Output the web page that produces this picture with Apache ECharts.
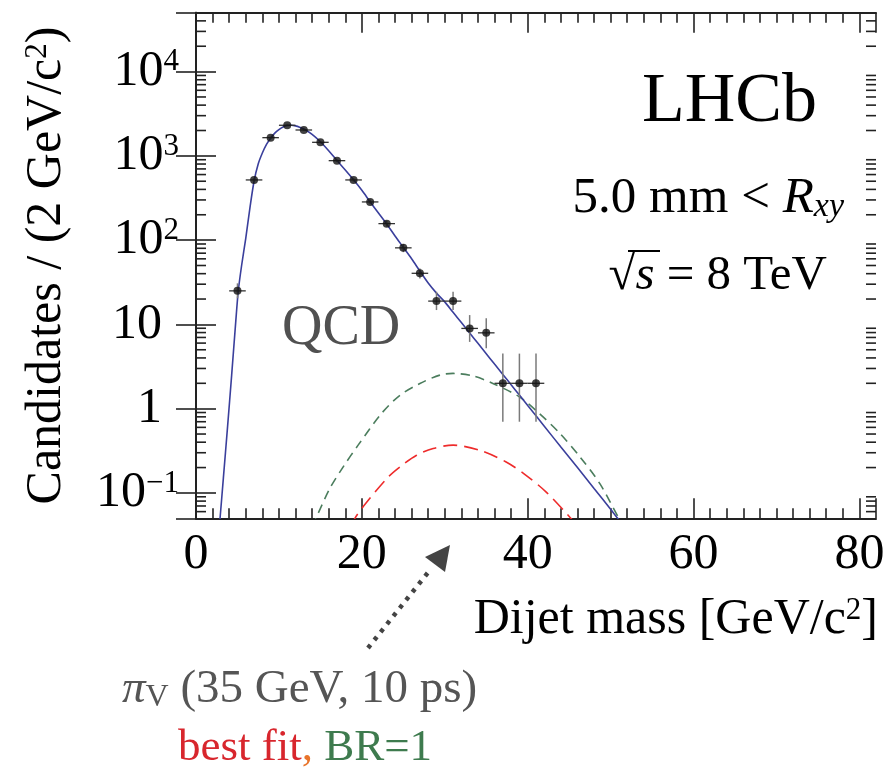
<!DOCTYPE html>
<html><head><meta charset="utf-8">
<script src="https://cdn.jsdelivr.net/npm/echarts@6/dist/echarts.min.js"></script>
<style>html,body{margin:0;padding:0;background:#fff}#c{width:894px;height:770px}</style>
</head><body><div id="c"></div>
<script>
// ---- data ----
const binCenters = [5, 7, 9, 11, 13, 15, 17, 19, 21, 23, 25, 27, 29, 31, 33, 35, 37, 39, 41];
const counts     = [25, 518, 1644, 2307, 2028, 1448, 877, 518, 284, 157, 81, 40.4, 18.9, 18.9, 8.96, 7.94, 2, 2, 2];
const errLow     = [20.4, 495, 1600, 2255, 1980, 1408, 846, 496, 268, 145, 72, 35, 14.8, 14.8, 6.2, 5.2, 0.7, 0.7, 0.7];
const errHigh    = [30.7, 541, 1688, 2359, 2076, 1488, 908, 541, 301, 170, 90, 46, 24.4, 24.4, 12.9, 11.8, 4.5, 4.5, 4.5];
const binHalfWidth = 1;

const qcdX = [2.7, 2.9, 3.3, 3.8, 4.3, 4.8, 5.1, 5.5, 6.0, 6.5, 7.0, 7.5, 8.0, 8.5, 9.0, 9.5, 10.0, 10.5, 11.0, 11.5, 12.0, 12.5, 13.0, 14.0, 15.0, 16.0, 17.0, 18.0, 19.0, 20.0, 21.0, 22.0, 23.0, 24.0, 25.0, 26.0, 27.0, 28.0, 29.0, 30.0, 31.0, 32.0, 33.0, 34.0, 35.0, 36.0, 37.0, 38.0, 39.0, 40.0, 42.0, 44.0, 46.0, 48.0, 50.0, 51.0, 52.0];
const qcdY = [0.03, 0.05, 0.15, 0.6, 2.5, 11, 25, 50, 105, 240, 500, 800, 1080, 1370, 1620, 1860, 2050, 2200, 2290, 2310, 2270, 2190, 2080, 1800, 1470, 1150, 880, 680, 520, 390, 285, 210, 155, 112, 82, 60, 43, 31, 23.5, 18.5, 13.9, 10.5, 7.9, 5.96, 4.49, 3.38, 2.55, 1.92, 1.45, 1.09, 0.62, 0.35, 0.2, 0.113, 0.064, 0.048, 0.037];

const br1X = [14.0, 14.46, 16.14, 17.75, 19.55, 22.37, 24.6, 27.0, 29.4, 31.0, 33.4, 35.8, 39.0, 41.4, 43.9, 46.3, 48.7, 50.9, 51.4];
const br1Y = [0.04, 0.05, 0.113, 0.204, 0.369, 0.877, 1.445, 1.99, 2.50, 2.62, 2.45, 1.99, 1.38, 0.877, 0.507, 0.268, 0.129, 0.052, 0.044];

const bestX = [18.8, 19.16, 20.6, 23.2, 24.6, 26.6, 28.6, 31.0, 34.2, 37.4, 39.8, 42.2, 44.9, 45.6];
const bestY = [0.04, 0.05, 0.078, 0.155, 0.204, 0.28, 0.337, 0.369, 0.321, 0.233, 0.162, 0.103, 0.054, 0.045];

const xTickValues = [0, 20, 40, 60, 80];
const yTickValues = [0.1, 1, 10, 100, 1000, 10000];
const yTickBase   = ['10', '1', '10', '10', '10', '10'];
const yTickExp    = ['\u22121', '', '', '2', '3', '4'];
const yMinorMantissa = [2, 3, 4, 5, 6, 7, 8, 9];

// ---- chart ----
const SERIF = "'Liberation Serif','Times New Roman',serif";
const X_MIN = 0, X_MAX = 82, Y_MIN = 0.05, Y_MAX = 50000;

const yMinor = [];
for (let e = -2; e <= 4; e++) {
  for (const m of yMinorMantissa) {
    const v = m * Math.pow(10, e);
    if (v > Y_MIN * 1.0001 && v < Y_MAX * 0.9999) yMinor.push([0, v]);
  }
}

const AX = '#222';
function axisCommon(showLabels) {
  return {
    axisLine: { show: true, lineStyle: { color: AX, width: 2 } },
    axisTick: { show: true, inside: true, length: 20, lineStyle: { color: AX, width: 1.6 } },
    splitLine: { show: false },
    axisLabel: { show: showLabels }
  };
}

const chart = echarts.init(document.getElementById('c'), null, { renderer: 'canvas' });

const xBase = {
  type: 'value', min: X_MIN, max: X_MAX, interval: 20,
  minorTick: { show: true, splitNumber: 10, length: 10, lineStyle: { color: AX, width: 1.6 } },
  minorSplitLine: { show: false }
};

chart.setOption({
  animation: false,
  backgroundColor: '#fff',
  grid: { left: 196, right: 18, top: 12.7, bottom: 251.7, containLabel: false },
  xAxis: [
    Object.assign({}, xBase, axisCommon(true), {
      position: 'bottom',
      axisLabel: {
        show: true, margin: 12, fontSize: 50, fontFamily: SERIF, color: '#000',
        showMaxLabel: false,
        formatter: v => (xTickValues.indexOf(v) >= 0 ? String(v) : '')
      },
      name: '{t|Dijet mass [GeV/c}{s|2}{t|]}',
      nameLocation: 'end', nameGap: 2,
      nameTextStyle: {
        align: 'right', verticalAlign: 'top', padding: [77, 0, 0, 0],
        rich: {
          t: { fontSize: 50, fontFamily: SERIF, color: '#000' },
          s: { fontSize: 31, fontFamily: SERIF, color: '#000', verticalAlign: 'top' }
        }
      }
    }),
    Object.assign({}, xBase, axisCommon(false), { position: 'top' })
  ],
  yAxis: [
    Object.assign({ type: 'log', logBase: 10, min: Y_MIN, max: Y_MAX }, axisCommon(true), {
      position: 'left',
      axisLabel: {
        show: true, margin: 17, showMinLabel: false, showMaxLabel: false,
        fontSize: 50, fontFamily: SERIF, color: '#000',
        formatter: v => {
          const i = yTickValues.findIndex(t => Math.abs(Math.log10(t) - Math.log10(v)) < 1e-6);
          if (i < 0) return '';
          return yTickExp[i] ? '{b|' + yTickBase[i] + '}{s|' + yTickExp[i] + '}' : '{b|' + yTickBase[i] + '}{p|}';
        },
        rich: {
          b: { fontSize: 50, fontFamily: SERIF, color: '#000' },
          s: { fontSize: 31, fontFamily: SERIF, color: '#000', verticalAlign: 'top' },
          p: { width: 17 }
        }
      },
      name: '{t|Candidates / (2 GeV/c}{s|2}{t|)}',
      nameLocation: 'middle', nameRotate: 90, nameGap: 124,
      nameTextStyle: {
        rich: {
          t: { fontSize: 50, fontFamily: SERIF, color: '#000' },
          s: { fontSize: 31, fontFamily: SERIF, color: '#000', verticalAlign: 'top' }
        }
      }
    }),
    Object.assign({ type: 'log', logBase: 10, min: Y_MIN, max: Y_MAX }, axisCommon(false), { position: 'right' })
  ],
  series: [
    {
      name: 'minor log ticks', type: 'custom', coordinateSystem: 'cartesian2d',
      xAxisIndex: 0, yAxisIndex: 0, silent: true, clip: false,
      encode: { x: 0, y: 1 },
      data: yMinor,
      renderItem: (params, api) => {
        const v = api.value(1);
        const pL = api.coord([X_MIN, v]);
        const pR = api.coord([X_MAX, v]);
        return {
          type: 'group', children: [
            { type: 'line', shape: { x1: pL[0], y1: pL[1], x2: pL[0] + 10, y2: pL[1] }, style: { stroke: AX, lineWidth: 1.6 } },
            { type: 'line', shape: { x1: pR[0] - 10, y1: pR[1], x2: pR[0], y2: pR[1] }, style: { stroke: AX, lineWidth: 1.6 } }
          ]
        };
      }
    },
    {
      name: 'BR=1', type: 'line', showSymbol: false, smooth: 0.3, clip: true, z: 3,
      data: br1X.map((x, i) => [x, br1Y[i]]),
      lineStyle: { color: '#4b7d5d', width: 1.6, type: [9, 6] }
    },
    {
      name: 'best fit', type: 'line', showSymbol: false, smooth: 0.3, clip: true, z: 3,
      data: bestX.map((x, i) => [x, bestY[i]]),
      lineStyle: { color: '#ee2b2b', width: 1.6, type: [14, 7] }
    },
    {
      name: 'QCD', type: 'line', showSymbol: false, smooth: 0.3, clip: true, z: 4,
      data: qcdX.map((x, i) => [x, qcdY[i]]),
      lineStyle: { color: '#3a3f9c', width: 1.6 }
    },
    {
      name: 'errors', type: 'custom', coordinateSystem: 'cartesian2d', z: 5, silent: true,
      encode: { x: 0, y: 1 },
      data: binCenters.map((x, i) => [x, counts[i], errLow[i], errHigh[i]]),
      renderItem: (params, api) => {
        const x = api.value(0), y = api.value(1), lo = api.value(2), hi = api.value(3);
        const a = api.coord([x, lo]), b = api.coord([x, hi]);
        const l = api.coord([x - binHalfWidth, y]), r = api.coord([x + binHalfWidth, y]);
        return {
          type: 'group', children: [
            { type: 'line', shape: { x1: a[0], y1: a[1], x2: b[0], y2: b[1] }, style: { stroke: '#7a7a7a', lineWidth: 1.5 } },
            { type: 'line', shape: { x1: l[0], y1: l[1], x2: r[0], y2: r[1] }, style: { stroke: '#333', lineWidth: 1.3 } }
          ]
        };
      }
    },
    {
      name: 'data', type: 'scatter', z: 6, symbol: 'circle', symbolSize: 8,
      itemStyle: { color: '#111' },
      data: binCenters.map((x, i) => [x, counts[i]])
    }
  ],
  graphic: [
    { type: 'text', z: 10, style: { text: 'LHCb', x: 817, y: 103, align: 'right', verticalAlign: 'middle', font: "70px " + SERIF, fill: '#000' } },
    { type: 'text', z: 10, style: {
        text: '5.0 mm < {i|R}{sub|xy}', x: 844, y: 199, align: 'right', verticalAlign: 'middle',
        font: "51px " + SERIF, fill: '#000',
        rich: {
          i: { fontSize: 51, fontFamily: SERIF, fontStyle: 'italic', fill: '#000' },
          sub: { fontSize: 34, fontFamily: SERIF, fontStyle: 'italic', fill: '#000', verticalAlign: 'bottom' }
        } } },
    { type: 'text', z: 10, style: {
        text: '{r|\u221A}{i|s} = 8 TeV', x: 827, y: 276, align: 'right', verticalAlign: 'middle',
        font: "49px " + SERIF, fill: '#000',
        rich: {
          r: { fontSize: 49, fontFamily: SERIF, fill: '#000' },
          i: { fontSize: 49, fontFamily: SERIF, fontStyle: 'italic', fill: '#000' }
        } } },
    { type: 'line', z: 10, shape: { x1: 628, y1: 251, x2: 660, y2: 251 }, style: { stroke: '#000', lineWidth: 2 } },
    { type: 'text', z: 10, style: { text: 'QCD', x: 282, y: 329, align: 'left', verticalAlign: 'middle', font: "56px " + SERIF, fill: '#505050' } },
    // arrow
    { type: 'line', z: 10, shape: { x1: 368, y1: 648, x2: 430, y2: 570 }, style: { stroke: '#444', lineWidth: 4.5, lineDash: [4, 6.2] } },
    { type: 'polygon', z: 10, shape: { points: [[450, 545], [425, 557], [445, 572]] }, style: { fill: '#444' } },
    { type: 'text', z: 10, style: {
        text: '{p|\u03C0}{v|V} (35 GeV, 10 ps)', x: 122, y: 690, align: 'left', verticalAlign: 'middle',
        font: "47px " + SERIF, fill: '#555',
        rich: {
          p: { fontSize: 47, fontFamily: SERIF, fontStyle: 'italic', fill: '#555' },
          v: { fontSize: 32, fontFamily: SERIF, fill: '#555', verticalAlign: 'bottom' }
        } } },
    { type: 'text', z: 10, style: {
        text: '{r|best fit}{o|,} {g|BR=1}', x: 305, y: 748, align: 'center', verticalAlign: 'middle',
        font: "45px " + SERIF, fill: '#3e7b4e',
        rich: {
          r: { fontSize: 45, fontFamily: SERIF, fill: '#d8262d' },
          o: { fontSize: 45, fontFamily: SERIF, fill: '#e8742a' },
          g: { fontSize: 45, fontFamily: SERIF, fill: '#3e7b4e' }
        } } }
  ]
});
</script></body></html>
